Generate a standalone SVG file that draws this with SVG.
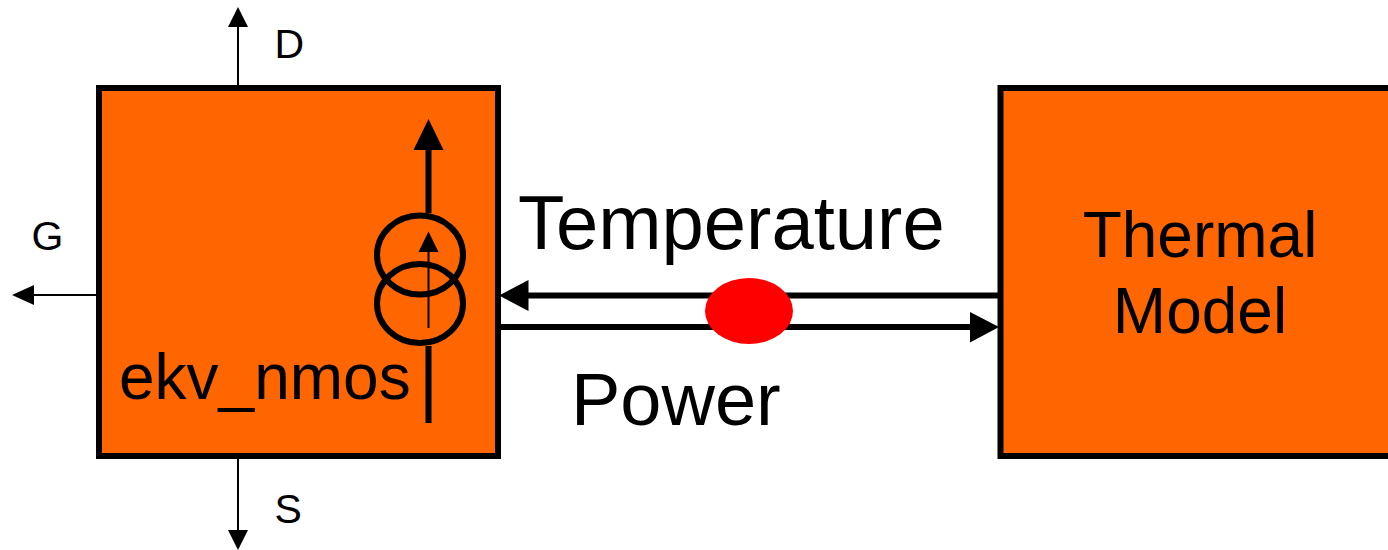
<svg xmlns="http://www.w3.org/2000/svg" width="1388" height="550" viewBox="0 0 1388 550">
<style>
text{font-family:"Liberation Sans",Arial,sans-serif;fill:#000}
.box{fill:#ff6600;stroke:#000;stroke-width:6}
.thin{stroke:#000;stroke-width:2;fill:none}
.thick{stroke:#000;stroke-width:6;fill:none}
.ring{stroke:#000;stroke-width:6;fill:none}
</style>
<rect width="1388" height="550" fill="#fff"/>
<g id="ekv_nmos">
<rect class="box" x="99" y="88" width="399" height="368"/>
<text x="119" y="399" font-size="64">ekv_nmos</text>
</g>
<g id="thermal_model">
<rect class="box" x="1000.5" y="88" width="400" height="368"/>
<text x="1200" y="256.500" font-size="64" text-anchor="middle">Thermal</text>
<text x="1200" y="333" font-size="64" text-anchor="middle">Model</text>
</g>
<g id="current_source">
<ellipse class="ring" cx="420" cy="255" rx="43" ry="39.5"/>
<ellipse class="ring" cx="420" cy="303.5" rx="43" ry="39.5"/>
<path class="thick" d="M428.5 423V346M428.5 213V148"/>
<polygon points="428.5,119 413.5,150 443.5,150"/>
<path class="thin" d="M428.5 328V250"/>
<polygon points="428.5,231.500 418.500,252 438.500,252"/>
</g>
<g id="connectors">
<path class="thin" d="M238 86V26"/><polygon points="238,7 228,27 248,27"/>
<path class="thin" d="M238 458V530"/><polygon points="238,550 228,530 248,530"/>
<path class="thin" d="M97 295H33"/><polygon points="12,295 34,285 34,305"/>
<path class="thick" d="M998 295.500H527"/><polygon points="499,295.500 528.500,280 528.500,311"/>
<path class="thick" d="M500 327H971"/><polygon points="999,327 970,312 970,342.500"/>
</g>
<g id="junction"><ellipse cx="749" cy="311" rx="44" ry="33" fill="#ff0000"/></g>
<g id="labels">
<text x="274.500" y="58" font-size="41">D</text>
<text x="31.500" y="250" font-size="41">G</text>
<text x="274.500" y="523" font-size="41">S</text>
<text x="518" y="249" font-size="76">Temperature</text>
<text x="571" y="424.500" font-size="74">Power</text>
</g>
</svg>
